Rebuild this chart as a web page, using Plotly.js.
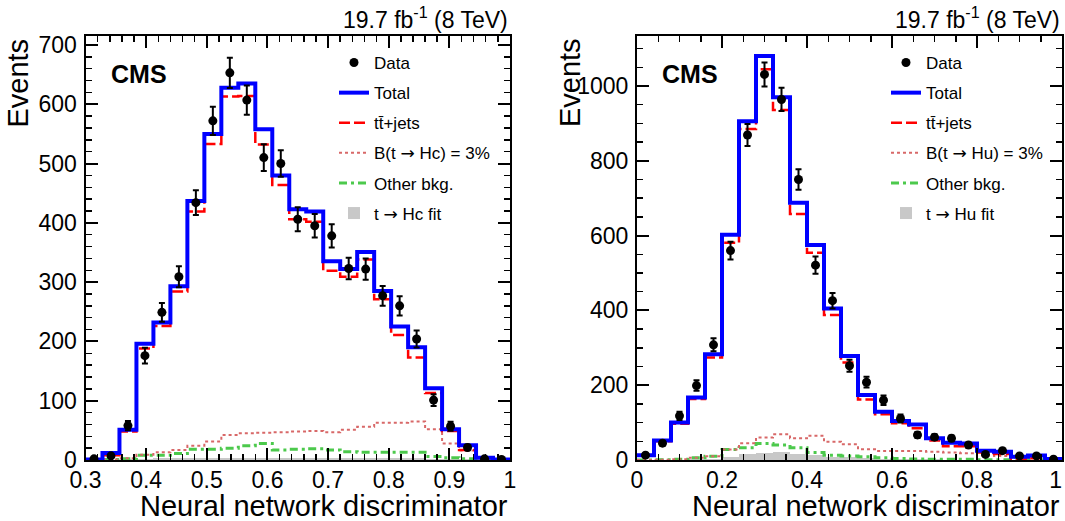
<!DOCTYPE html>
<html><head><meta charset="utf-8">
<script src="https://cdn.plot.ly/plotly-3.0.1.min.js"></script>
<style>html,body{margin:0;padding:0;background:#fff}</style>
</head><body><div id="chart" style="width:1065px;height:521px"></div>
<script>
// ---- data ----
const nBins = 25;
const rangeL = [0.3, 1.0];
const rangeR = [0.0, 1.0];

// Left panel: t -> Hc
const dataL  = [2, 7, 58, 176, 249, 309, 434, 572, 653, 607, 510, 500, 406, 395, 378, 323, 322, 277, 260, 204, 101, 57, 21, 2, 1];
const totalL = [1, 12, 51, 196, 232, 293, 437, 550, 628, 635, 558, 480, 423, 419, 335, 322, 351, 285, 225, 190, 121, 52, 25, 4, 1];
const ttL    = [0, 8, 48, 188, 226, 284, 419, 533, 613, 614, 532, 464, 406, 402, 319, 309, 338, 271, 211, 173, 113, 49, 17, 3, 0];
const sigL   = [0, 1, 3, 9, 13, 17, 24, 31, 42, 45, 46, 47, 48, 49, 47, 51, 56, 63, 63, 65, 52, 28, 16, 3, 0];
const otherL = [0, 1, 2, 8, 8, 11, 18, 18, 20, 24, 28, 17, 18, 19, 17, 14, 13, 13, 13, 13, 6, 4, 2, 0, 0];
const fitL   = [0, 0, 1, 2, 3, 3, 4, 4, 4, 4, 4, 4, 4, 4, 4, 4, 4, 4, 3, 3, 2, 1, 1, 0, 0];

// Right panel: t -> Hu
const dataR  = [13, 45, 118, 199, 308, 560, 869, 1031, 964, 750, 521, 426, 252, 208, 160, 111, 67, 61, 58, 40, 15, 25, 11, 11, 2];
const totalR = [13, 52, 100, 167, 283, 602, 906, 1080, 970, 688, 575, 405, 278, 174, 129, 104, 95, 58, 46, 44, 25, 22, 9, 12, 3];
const ttR    = [12, 50, 97, 163, 274, 581, 885, 1045, 936, 658, 554, 388, 261, 162, 122, 98, 85, 52, 37, 37, 20, 16, 3, 5, 1];
const sigR   = [0, 1, 2, 6, 10, 28, 45, 60, 69, 58, 65, 49, 42, 29, 24, 24, 24, 22, 20, 18, 13, 11, 6, 6, 1];
const otherR = [0, 1, 2, 6, 10, 28, 33, 44, 40, 33, 20, 13, 11, 9, 6, 4, 3, 2, 2, 2, 1, 1, 1, 1, 0];
const fitR   = [0, 0, 1, 2, 4, 9, 15, 20, 22, 16, 13, 9, 7, 5, 4, 3, 2, 2, 1, 1, 1, 0, 0, 0, 0];

// tick labels of the right x axis (last one kept inside the picture like the reference)
const tickValsR = [0, 0.2, 0.4, 0.6, 0.8, 1];
const tickTextR = ['0', '0.2', '0.4', '0.6', '0.8', '1\u2007'];

const ARROW = '<span style="font-family:DejaVu Sans">\u2192</span>';
const namesL = ['Data', 'Total', 'tt\u0304+jets', 'B(t ' + ARROW + ' Hc) = 3%', 'Other bkg.', 't ' + ARROW + ' Hc fit'];
const namesR = ['Data', 'Total', 'tt\u0304+jets', 'B(t ' + ARROW + ' Hu) = 3%', 'Other bkg.', 't ' + ARROW + ' Hu fit'];
const lumiText = '19.7 fb<sup>-1</sup> (8 TeV)';
const xTitle = 'Neural network discriminator';
const yTitle = 'Events';

// ---- helpers ----
function edges(r, n) { const w = (r[1]-r[0])/n; const e=[]; for (let i=0;i<=n;i++) e.push(r[0]+i*w); return e; }
function centers(r, n) { const w = (r[1]-r[0])/n; const c=[]; for (let i=0;i<n;i++) c.push(r[0]+(i+0.5)*w); return c; }
function stepY(v) { return v.concat([v[v.length-1]]); }

const FONT = 'Liberation Sans, Arial, Helvetica, sans-serif';
const C_BLUE = '#0000ff', C_RED = '#ff0000', C_PINK = '#d86868', C_GREEN = '#4cc94c', C_GRAY = '#c8c8c8';

function panel(r, vals, names, xa, ya, lg) {
  const e = edges(r, nBins), c = centers(r, nBins), w = (r[1]-r[0])/nBins;
  const [data, total, tt, sig, other, fit] = vals;
  const common = {xaxis: xa, yaxis: ya, legend: lg, hoverinfo: 'skip'};
  return [
    Object.assign({type:'bar', x:c, y:fit, width:w, name:names[5], legendgroup:lg+'f', legendrank:6,
      marker:{color:C_GRAY, line:{width:0}}}, common),
    Object.assign({type:'scatter', mode:'lines', x:e, y:stepY(other), name:names[4], legendgroup:lg+'o', legendrank:5,
      line:{shape:'hv', color:C_GREEN, width:3, dash:'8px,4px,3px,4px'}}, common),
    Object.assign({type:'scatter', mode:'lines', x:e, y:stepY(sig), name:names[3], legendgroup:lg+'s', legendrank:4,
      line:{shape:'hv', color:C_PINK, width:2, dash:'3px,3px'}}, common),
    Object.assign({type:'scatter', mode:'lines', x:e, y:stepY(tt), name:names[2], legendgroup:lg+'t', legendrank:3,
      line:{shape:'hv', color:C_RED, width:2.5, dash:'11px,4px'}}, common),
    Object.assign({type:'scatter', mode:'lines', x:e, y:stepY(total), name:names[1], legendgroup:lg+'T', legendrank:2,
      line:{shape:'hv', color:C_BLUE, width:4}}, common),
    Object.assign({type:'scatter', mode:'markers', x:c, y:data, name:names[0], legendgroup:lg+'d', legendrank:1,
      marker:{color:'black', size:9},
      error_y:{type:'sqrt', visible:true, color:'black', thickness:2, width:3}}, common)
  ];
}

const traces = panel(rangeL, [dataL,totalL,ttL,sigL,otherL,fitL], namesL, 'x', 'y', 'legend')
  .concat(panel(rangeR, [dataR,totalR,ttR,sigR,otherR,fitR], namesR, 'x2', 'y2', 'legend2'));

const W = 1065, H = 521;
const fx = p => p / W, fy = p => (H - p) / H;
const domL = [fx(85.5), fx(510)], domR = [fx(637), fx(1062)];
const domY = [fy(460), fy(36)];
const EPS = 1e-6;

function axis(dom, range, dtick, minor, anchor, extra) {
  return Object.assign({
    domain: dom, range: range, anchor: anchor, dtick: dtick, tick0: 0,
    showline: true, linecolor: 'black', linewidth: 2, mirror: 'ticks',
    ticks: 'inside', ticklen: 12, tickwidth: 2, tickcolor: 'black',
    minor: {dtick: minor, tick0: 0, ticks: 'inside', ticklen: 6, tickwidth: 1.5, tickcolor: 'black', showgrid: false},
    showgrid: false, zeroline: false, fixedrange: true, ticklabeloverflow: 'allow',
    tickfont: {family: FONT, size: 23, color: 'black'}
  }, extra || {});
}

const legendBase = {
  xanchor: 'left', yanchor: 'top', bgcolor: 'rgba(0,0,0,0)', borderwidth: 0,
  font: {family: FONT, size: 17, color: 'black'}, itemwidth: 30, tracegroupgap: 5,
  traceorder: 'grouped', itemclick: false, itemdoubleclick: false
};

function ann(xref, yref, x, y, text, opts) {
  return Object.assign({xref: xref, yref: yref, x: x, y: y, text: text, showarrow: false,
    font: {family: FONT, size: 23, color: 'black'}}, opts);
}

const annotations = [];
[['x', 'y'], ['x2', 'y2']].forEach(([xa, ya]) => {
  const xd = xa + ' domain', yd = ya + ' domain';
  annotations.push(ann(xd, yd, 1, 1, lumiText, {xanchor: 'right', yanchor: 'bottom', yshift: 1, font: {family: FONT, size: 23, color: 'black'}}));
  annotations.push(ann(xd, yd, 0.055, 0.911, '<b>CMS</b>', {xanchor: 'left', yanchor: 'middle', font: {family: FONT, size: 25, color: 'black'}}));
  annotations.push(ann(xd, yd, 1, -0.108, xTitle, {xanchor: 'right', yanchor: 'middle', font: {family: FONT, size: 29, color: 'black'}}));
  annotations.push(ann(xd, yd, 0, 0.889, yTitle, {xanchor: 'center', yanchor: 'middle', textangle: -90, xshift: -67, font: {family: FONT, size: 29, color: 'black'}}));
});

const layout = {
  width: W, height: H, margin: {l: 0, r: 0, t: 0, b: 0},
  paper_bgcolor: 'white', plot_bgcolor: 'white',
  barmode: 'overlay', bargap: 0, showlegend: true,
  xaxis:  axis(domL, [rangeL[0], rangeL[1] + EPS], 0.1, 0.02, 'y', {ticklabelstandoff: -2}),
  yaxis:  axis(domY, [0, 715.1], 100, 20, 'x', {ticklabelstandoff: 2}),
  xaxis2: axis(domR, [rangeR[0], rangeR[1] + EPS], 0.2, 0.05, 'y2',
               {ticklabelstandoff: -2, tickmode: 'array', tickvals: tickValsR, ticktext: tickTextR}),
  yaxis2: axis(domY, [0, 1133.7], 200, 50, 'x2', {ticklabelstandoff: 2}),
  legend:  Object.assign({x: fx(334), y: fy(45)}, legendBase),
  legend2: Object.assign({x: fx(886), y: fy(45)}, legendBase),
  annotations: annotations
};

Plotly.newPlot('chart', traces, layout, {displayModeBar: false, staticPlot: true});
</script>
</body></html>
